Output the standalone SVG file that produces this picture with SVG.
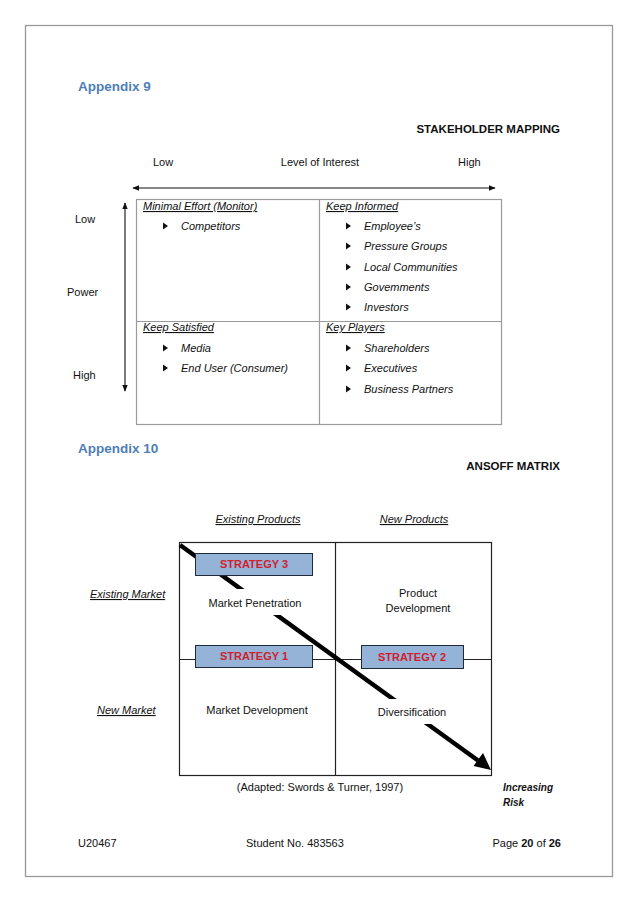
<svg xmlns="http://www.w3.org/2000/svg" width="638" height="903" viewBox="0 0 638 903">
<style>
text{font-family:"Liberation Sans",Arial,sans-serif;font-size:11px;fill:#111}
.h{font-weight:bold;fill:#4f7fb8;font-size:13.5px}
.t{font-weight:bold;font-size:11.5px}
.iu{font-style:italic;text-decoration:underline}
.it{font-style:italic}
.cell{fill:none;stroke:#9a9a9a;stroke-width:1.2}
.mx{fill:none;stroke:#222;stroke-width:1.2}
.sb{fill:#95b3d7;stroke:#1f2a3a;stroke-width:1}
.st{font-weight:bold;fill:#d0202e;text-anchor:middle;font-size:11px}
.c{text-anchor:middle}
.thin{stroke:#111;stroke-width:1.1;fill:none}
</style>
<defs>
<marker id="ah" viewBox="0 0 10 10" refX="9" refY="5" markerWidth="7" markerHeight="7" markerUnits="userSpaceOnUse" orient="auto-start-reverse">
<path d="M0,1 L10,5 L0,9 z" fill="#111"/>
</marker>
<path id="bul" d="M0,-3.5 L5,0 L0,3.5 z" fill="#111"/>
</defs>
<rect width="638" height="903" fill="#fff"/>
<rect x="25.5" y="25.5" width="587" height="851" fill="none" stroke="#999" stroke-width="1.3"/>

<g id="appendix9">
<text class="h" x="78" y="91">Appendix 9</text>
<text class="t" x="560" y="133" text-anchor="end">STAKEHOLDER MAPPING</text>
<text x="153" y="166">Low</text>
<text x="320" y="166" class="c">Level of Interest</text>
<text x="458" y="166">High</text>
<text x="75" y="223">Low</text>
<text x="67" y="296">Power</text>
<text x="73" y="379">High</text>
</g>

<g id="axes">
<line class="thin" x1="133" y1="188" x2="495" y2="188" marker-start="url(#ah)" marker-end="url(#ah)"/>
<line class="thin" x1="125" y1="203" x2="125" y2="391" marker-start="url(#ah)" marker-end="url(#ah)"/>
</g>

<g id="stakeholder-grid">
<rect class="cell" x="136.5" y="199.5" width="365" height="225"/>
<line class="cell" x1="319.5" y1="199.5" x2="319.5" y2="424.5"/>
<line class="cell" x1="136.5" y1="321.5" x2="501.5" y2="321.5"/>
</g>

<g id="q-minimal">
<text class="iu" x="143" y="210">Minimal Effort (Monitor)</text>
<use href="#bul" x="163" y="226"/>
<text class="it" x="181" y="230">Competitors</text>
</g>
<g id="q-informed">
<text class="iu" x="326" y="210">Keep Informed</text>
<use href="#bul" x="346" y="226"/><text class="it" x="364" y="230">Employee’s</text>
<use href="#bul" x="346" y="246"/><text class="it" x="364" y="250">Pressure Groups</text>
<use href="#bul" x="346" y="267"/><text class="it" x="364" y="271">Local Communities</text>
<use href="#bul" x="346" y="287"/><text class="it" x="364" y="291">Govemments</text>
<use href="#bul" x="346" y="307"/><text class="it" x="364" y="311">Investors</text>
</g>
<g id="q-satisfied">
<text class="iu" x="143" y="331">Keep Satisfied</text>
<use href="#bul" x="163" y="348"/><text class="it" x="181" y="352">Media</text>
<use href="#bul" x="163" y="368"/><text class="it" x="181" y="372">End User (Consumer)</text>
</g>
<g id="q-key">
<text class="iu" x="326" y="331">Key Players</text>
<use href="#bul" x="346" y="348"/><text class="it" x="364" y="352">Shareholders</text>
<use href="#bul" x="346" y="368"/><text class="it" x="364" y="372">Executives</text>
<use href="#bul" x="346" y="389"/><text class="it" x="364" y="393">Business Partners</text>
</g>

<g id="appendix10">
<text class="h" x="78" y="453">Appendix 10</text>
<text class="t" x="560" y="470" text-anchor="end">ANSOFF MATRIX</text>
<text class="iu c" x="258" y="523">Existing Products</text>
<text class="iu c" x="414" y="523">New Products</text>
<text class="iu" x="90" y="598">Existing Market</text>
<text class="iu" x="97" y="714">New Market</text>
</g>

<g id="ansoff-grid">
<rect class="mx" x="179.5" y="542.5" width="312" height="233"/>
<line class="mx" x1="335.5" y1="542.5" x2="335.5" y2="775.5"/>
<line class="mx" x1="179.5" y1="659.5" x2="491.5" y2="659.5"/>
</g>

<g id="connectors">
<line x1="180" y1="545" x2="478" y2="760.5" stroke="#000" stroke-width="4.5"/>
<polygon points="491,770 473.5,766 483,753" fill="#000"/>
</g>

<g id="market-penetration">
<rect x="200" y="589" width="110" height="26" fill="#fff"/>
<text class="c" x="255" y="607">Market Penetration</text>
</g>
<g id="product-development">
<text class="c" x="418" y="597">Product</text>
<text class="c" x="418" y="612">Development</text>
</g>
<g id="market-development">
<text class="c" x="257" y="714">Market Development</text>
</g>
<g id="diversification">
<rect x="370" y="699" width="85" height="25" fill="#fff"/>
<text class="c" x="412" y="716">Diversification</text>
</g>

<g id="strategy3">
<rect class="sb" x="195.5" y="553.5" width="117" height="22"/>
<text class="st" x="254" y="568">STRATEGY 3</text>
</g>
<g id="strategy1">
<rect class="sb" x="195.5" y="645.5" width="117" height="22"/>
<text class="st" x="254" y="660">STRATEGY 1</text>
</g>
<g id="strategy2">
<rect class="sb" x="361.5" y="645.5" width="102" height="23"/>
<text class="st" x="412" y="661">STRATEGY 2</text>
</g>

<g id="captions">
<text class="c" x="320" y="791">(Adapted: Swords &amp; Turner, 1997)</text>
<text x="503" y="791" style="font-weight:bold;font-style:italic;font-size:10px">Increasing</text>
<text x="503" y="806" style="font-weight:bold;font-style:italic;font-size:10px">Risk</text>
</g>

<g id="footer">
<text x="78" y="847">U20467</text>
<text x="246" y="847">Student No. 483563</text>
<text x="561" y="847" text-anchor="end">Page <tspan font-weight="bold">20</tspan> of <tspan font-weight="bold">26</tspan></text>
</g>
</svg>
